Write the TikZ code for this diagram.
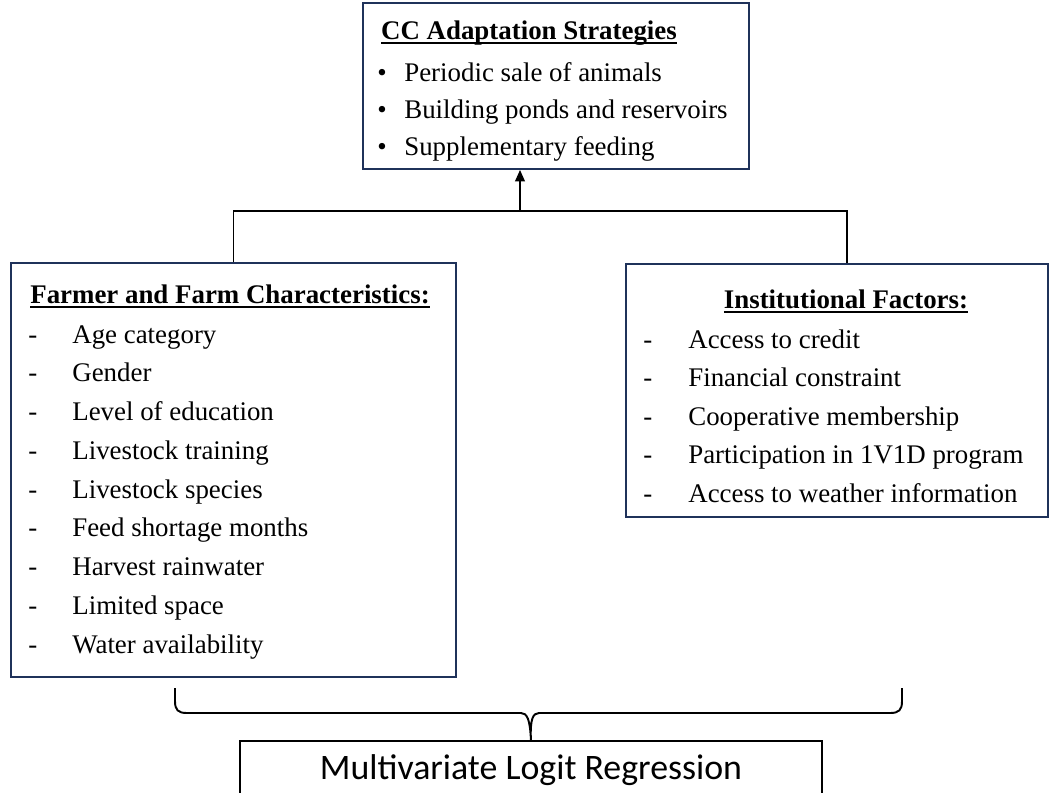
\documentclass[tikz,border=0pt]{standalone}
\usepackage{fontspec}
\setmainfont{Liberation Serif}
\newfontfamily\calibrifont{Carlito}
\usetikzlibrary{positioning, arrows.meta}
\definecolor{boxnavy}{RGB}{31,50,90}
\newcommand{\headline}[1]{\setbox0\hbox{\bfseries #1}\rlap{\rule[-2.7pt]{\wd0}{0.9pt}}\box0}

\begin{document}
\begin{tikzpicture}[x=0.02cm, y=-0.02cm,
    frame/.style={draw=boxnavy, line width=1.1pt, inner sep=0, anchor=north west},
    txt/.style={inner sep=0, anchor=base west, font=\fontsize{15.3}{18}\selectfont},
    ttl/.style={inner sep=0, anchor=base, font=\fontsize{15.3}{18}\selectfont},
    conn/.style={draw=black, line width=1pt}]
  \useasboundingbox (0,0) rectangle (1061,792);

  % boxes
  \node[frame, minimum width=7.72cm, minimum height=3.32cm] (strat) at (362,2) {};
  \node[frame, minimum width=8.9cm, minimum height=8.28cm] (farm) at (10,262) {};
  \node[frame, minimum width=8.44cm, minimum height=5.06cm] (inst) at (625,263) {};
  \node[frame, draw=black, minimum width=11.64cm, minimum height=1.14cm] (reg) at (239,740) {};

  % top box
  \node[ttl] (stratT) at (529,39) {\headline{CC Adaptation Strategies}};
  \foreach \item [count=\i from 0] in {Periodic sale of animals, Building ponds and reservoirs, Supplementary feeding} {
    \node[txt] (bulS\i) at (377,81+37*\i) {•};
    \node[txt] (itemS\i) at (404,81+37*\i) {\item};
  }

  % left box
  \node[ttl] (farmT) at (230,303) {\headline{Farmer and Farm Characteristics:}};
  \foreach \item [count=\i from 0] in {Age category, Gender, Level of education, Livestock training,
      Livestock species, Feed shortage months, Harvest rainwater, Limited space, Water availability} {
    \node[txt] (dashF\i) at (28,343+38.75*\i) {-};
    \node[txt] (itemF\i) at (72,343+38.75*\i) {\item};
  }

  % right box
  \node[ttl] (instT) at (846,308) {\headline{Institutional Factors:}};
  \foreach \item [count=\i from 0] in {Access to credit, Financial constraint, Cooperative membership,
      Participation in 1V1D program, Access to weather information} {
    \node[txt] (dashI\i) at (643,348+38.5*\i) {-};
    \node[txt] (itemI\i) at (688,348+38.5*\i) {\item};
  }

  \node[inner sep=0, anchor=base, font=\calibrifont\fontsize{20.4}{23}\selectfont] (regT) at (531,779) {Multivariate Logit Regression};

  % connectors
  \coordinate (joinL) at (farm.north |- 0,211);
  \coordinate (joinR) at (847,211);
  \coordinate (joinM) at (520,211);
  \draw[conn] (farm.north) -- (joinL) -- (joinR) -- (joinR |- inst.north);
  \draw[conn, -{Triangle[length=6.5pt, width=5.5pt]}] (joinM) -- (joinM |- strat.south);

  % brace
  \coordinate (braceL) at (175,688);
  \coordinate (braceR) at (902,688);
  \draw[conn, line width=1.1pt] (braceL) -- (175,701) .. controls (175,710) and (178,713) .. (187,713)
    -- (521,713) .. controls (527,713) and (530,719) .. (reg.north)
    .. controls (530,719) and (533,713) .. (539,713)
    -- (890,713) .. controls (899,713) and (902,710) .. (902,701) -- (braceR);
\end{tikzpicture}
\end{document}
